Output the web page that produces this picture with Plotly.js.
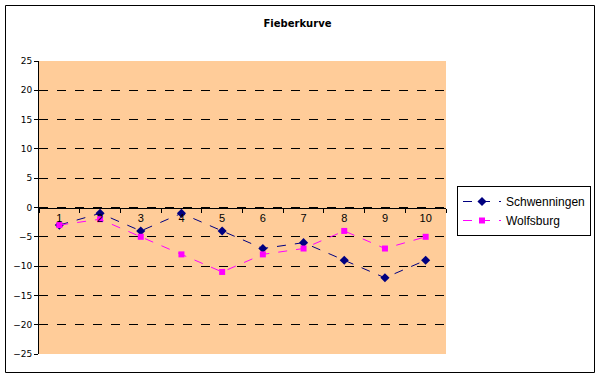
<!DOCTYPE html>
<html><head><meta charset="utf-8">
<script src="https://cdn.plot.ly/plotly-3.0.1.min.js"></script>
<style>body{margin:0;padding:0;background:#fff}#c{width:601px;height:379px}</style>
</head><body><div id="c"></div>
<script>
const categories = [1,2,3,4,5,6,7,8,9,10];
const tickLabels = ["1","2","3","4","5","6","7","8","9","10"];
const schwenningen = [-3,-1,-4,-1,-4,-7,-6,-9,-12,-9];
const wolfsburg = [-3,-2,-5,-8,-11,-8,-7,-4,-7,-5];

const L=39, R=155, T=61, B=25, W=601, H=379;
const pw=W-L-R, ph=H-T-B;
const px=x=>(x-L)/pw, py=y=>(H-B-y)/ph;

const traces = [
 {x:categories, y:schwenningen, name:'Schwenningen', type:'scatter', mode:'lines+markers',
  line:{color:'#000080', width:1, dash:'dash'}, marker:{symbol:'diamond', size:7, color:'#000080'}},
 {x:categories, y:wolfsburg, name:'Wolfsburg', type:'scatter', mode:'lines+markers',
  line:{color:'#FF00FF', width:1, dash:'dash'}, marker:{symbol:'square', size:6, color:'#FF00FF'}}
];
const layout = {
 width:W, height:H, margin:{l:L, r:R, t:T, b:B, autoexpand:false},
 paper_bgcolor:'#ffffff', plot_bgcolor:'#FFCC99',
 font:{family:'Tahoma, "DejaVu Sans", sans-serif', color:'#000'},
 title:{text:'<b>Fieberkurve</b>', x:0.495, xanchor:'center', y:1-23/H, yanchor:'middle', font:{size:10, color:'#000'}},
 showlegend:true,
 legend:{x:px(457), y:py(186), xanchor:'left', yanchor:'top', bordercolor:'#000', borderwidth:1, bgcolor:'#fff',
   font:{size:12, family:'"Liberation Sans", Arial, sans-serif'}, tracegroupgap:0, itemwidth:38},
 xaxis:{range:[0.5,10.5], anchor:'free', position:0.5, showline:true, linecolor:'#000', linewidth:1,
   tickmode:'array', tickvals:categories, ticktext:tickLabels, ticks:'', showgrid:false, zeroline:false,
   tickfont:{size:11, family:'"Liberation Sans", Arial, sans-serif'},
   minor:{tickmode:'linear', tick0:0.5, dtick:1, ticks:'outside', ticklen:4, tickcolor:'#000', showgrid:false}},
 yaxis:{range:[-25,25], dtick:5, tick0:0, showline:true, linecolor:'#000', linewidth:1, ticks:'outside', ticklen:4,
   tickcolor:'#000', showgrid:true, gridcolor:'#000', griddash:'dash', gridwidth:1, zeroline:false,
   tickfont:{size:9, family:'Tahoma, "DejaVu Sans", sans-serif'}},
 shapes:[
  {type:'rect', xref:'paper', yref:'paper', x0:px(5.5), x1:px(594.5), y0:py(372.5), y1:py(5.5), line:{color:'#000', width:1}, fillcolor:'rgba(0,0,0,0)', layer:'above'}
 ]
};
Plotly.newPlot('c', traces, layout, {displayModeBar:false, staticPlot:true});
</script></body></html>
